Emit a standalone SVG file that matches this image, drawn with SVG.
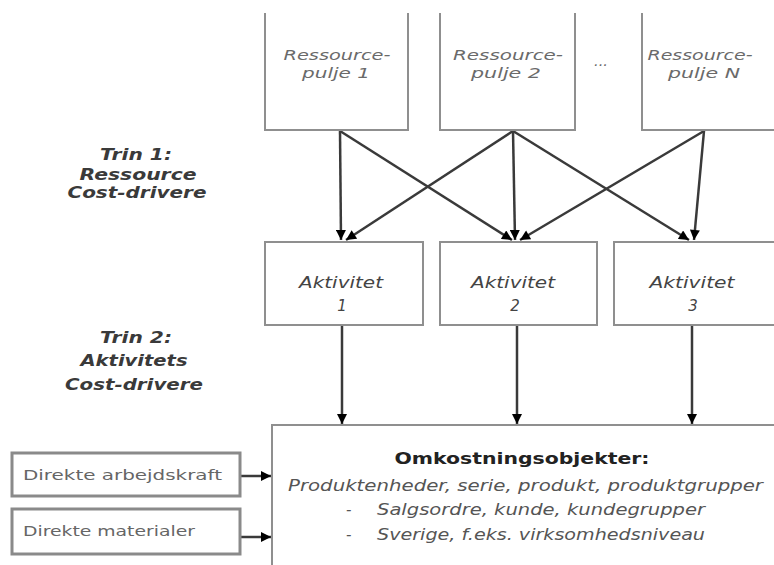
<svg xmlns="http://www.w3.org/2000/svg" width="774" height="565" viewBox="0 0 774 565">
<defs>
<style>
.box{fill:#fff;stroke:#8f8f8f;stroke-width:2}
.lbox{fill:#fff;stroke:#8a8a8a;stroke-width:3}
.res{font-family:"DejaVu Sans",sans-serif;font-style:italic;font-size:14.5px;fill:#6a6a6a;text-anchor:middle}
.akt{font-family:"DejaVu Sans",sans-serif;font-style:italic;font-size:15px;fill:#444;text-anchor:middle}
.trin{font-family:"DejaVu Sans",sans-serif;font-style:italic;font-weight:bold;font-size:16px;fill:#3a3a3a;text-anchor:middle}
.omk{font-family:"DejaVu Sans",sans-serif;font-weight:bold;font-size:16px;fill:#222;text-anchor:middle}
.sub{font-family:"DejaVu Sans",sans-serif;font-style:italic;font-size:15px;fill:#555}
.dir{font-family:"DejaVu Sans",sans-serif;font-size:14px;fill:#666}
.con{stroke:#3a3a3a;stroke-width:2.5;fill:none;marker-end:url(#arr)}
</style>
<marker id="arr" markerUnits="userSpaceOnUse" viewBox="0 0 10 10" refX="10" refY="5" markerWidth="11" markerHeight="10" orient="auto">
<path d="M0,0 L10,5 L0,10 Z" fill="#000"/>
</marker>
</defs>
<rect width="774" height="565" fill="#fff"/>

<g id="connectors">
<line class="con" x1="340" y1="131" x2="341" y2="240"/>
<line class="con" x1="340" y1="131" x2="512" y2="240"/>
<line class="con" x1="513" y1="131" x2="346" y2="240"/>
<line class="con" x1="513" y1="131" x2="515" y2="240"/>
<line class="con" x1="513" y1="131" x2="689" y2="240"/>
<line class="con" x1="704" y1="131" x2="520" y2="240"/>
<line class="con" x1="704" y1="131" x2="694" y2="240"/>
<line class="con" x1="342" y1="326" x2="342" y2="424"/>
<line class="con" x1="517" y1="326" x2="517" y2="424"/>
<line class="con" x1="692" y1="326" x2="692" y2="424"/>
<line class="con" x1="241" y1="476" x2="271" y2="476"/>
<line class="con" x1="241" y1="537" x2="271" y2="537"/>
</g>

<g id="res1">
<path class="box" d="M265,13 V130 H408 V13"/>
<text class="res" x="337" y="60" textLength="107" lengthAdjust="spacingAndGlyphs">Ressource-</text>
<text class="res" x="336" y="78" textLength="68" lengthAdjust="spacingAndGlyphs">pulje 1</text>
</g>
<g id="res2">
<path class="box" d="M440,13 V130 H575 V13"/>
<text class="res" x="508" y="60" textLength="110" lengthAdjust="spacingAndGlyphs">Ressource-</text>
<text class="res" x="506" y="78" textLength="70" lengthAdjust="spacingAndGlyphs">pulje 2</text>
</g>
<g id="dots">
<text class="res" x="601" y="66">...</text>
</g>
<g id="resN">
<path class="box" d="M642,13 V130 H782"/>
<text class="res" x="700" y="60" textLength="105" lengthAdjust="spacingAndGlyphs">Ressource-</text>
<text class="res" x="704" y="78" textLength="72" lengthAdjust="spacingAndGlyphs">pulje N</text>
</g>

<g id="trin1">
<text class="trin" x="136" y="160" textLength="72" lengthAdjust="spacingAndGlyphs">Trin 1:</text>
<text class="trin" x="138" y="180" textLength="117" lengthAdjust="spacingAndGlyphs">Ressource</text>
<text class="trin" x="137" y="198" textLength="139" lengthAdjust="spacingAndGlyphs">Cost-drivere</text>
</g>
<g id="trin2">
<text class="trin" x="136" y="343" textLength="72" lengthAdjust="spacingAndGlyphs">Trin 2:</text>
<text class="trin" x="134" y="366" textLength="107" lengthAdjust="spacingAndGlyphs">Aktivitets</text>
<text class="trin" x="134" y="390" textLength="138" lengthAdjust="spacingAndGlyphs">Cost-drivere</text>
</g>

<g id="akt1">
<rect class="box" x="265" y="242" width="158" height="83"/>
<text class="akt" x="341" y="288" textLength="84" lengthAdjust="spacingAndGlyphs">Aktivitet</text>
<text class="akt" x="342" y="311">1</text>
</g>
<g id="akt2">
<rect class="box" x="440" y="242" width="157" height="83"/>
<text class="akt" x="513" y="288" textLength="84" lengthAdjust="spacingAndGlyphs">Aktivitet</text>
<text class="akt" x="515" y="311">2</text>
</g>
<g id="akt3">
<rect class="box" x="614" y="242" width="170" height="83"/>
<text class="akt" x="692" y="288" textLength="85" lengthAdjust="spacingAndGlyphs">Aktivitet</text>
<text class="akt" x="693" y="311">3</text>
</g>

<g id="omkostning">
<rect class="box" x="272" y="425" width="520" height="160"/>
<text class="omk" x="522" y="464" textLength="255" lengthAdjust="spacingAndGlyphs">Omkostningsobjekter:</text>
<text class="sub" x="288" y="491" textLength="475" lengthAdjust="spacingAndGlyphs">Produktenheder, serie, produkt, produktgrupper</text>
<text class="sub" x="346" y="515">-</text>
<text class="sub" x="377" y="515" textLength="328" lengthAdjust="spacingAndGlyphs">Salgsordre, kunde, kundegrupper</text>
<text class="sub" x="346" y="540">-</text>
<text class="sub" x="377" y="540" textLength="328" lengthAdjust="spacingAndGlyphs">Sverige, f.eks. virksomhedsniveau</text>
</g>

<g id="direkte-arbejdskraft">
<rect class="lbox" x="12" y="453" width="228" height="43"/>
<text class="dir" x="23" y="480" textLength="199" lengthAdjust="spacingAndGlyphs">Direkte arbejdskraft</text>
</g>
<g id="direkte-materialer">
<rect class="lbox" x="12" y="509" width="228" height="45"/>
<text class="dir" x="23" y="536" textLength="172" lengthAdjust="spacingAndGlyphs">Direkte materialer</text>
</g>
</svg>
